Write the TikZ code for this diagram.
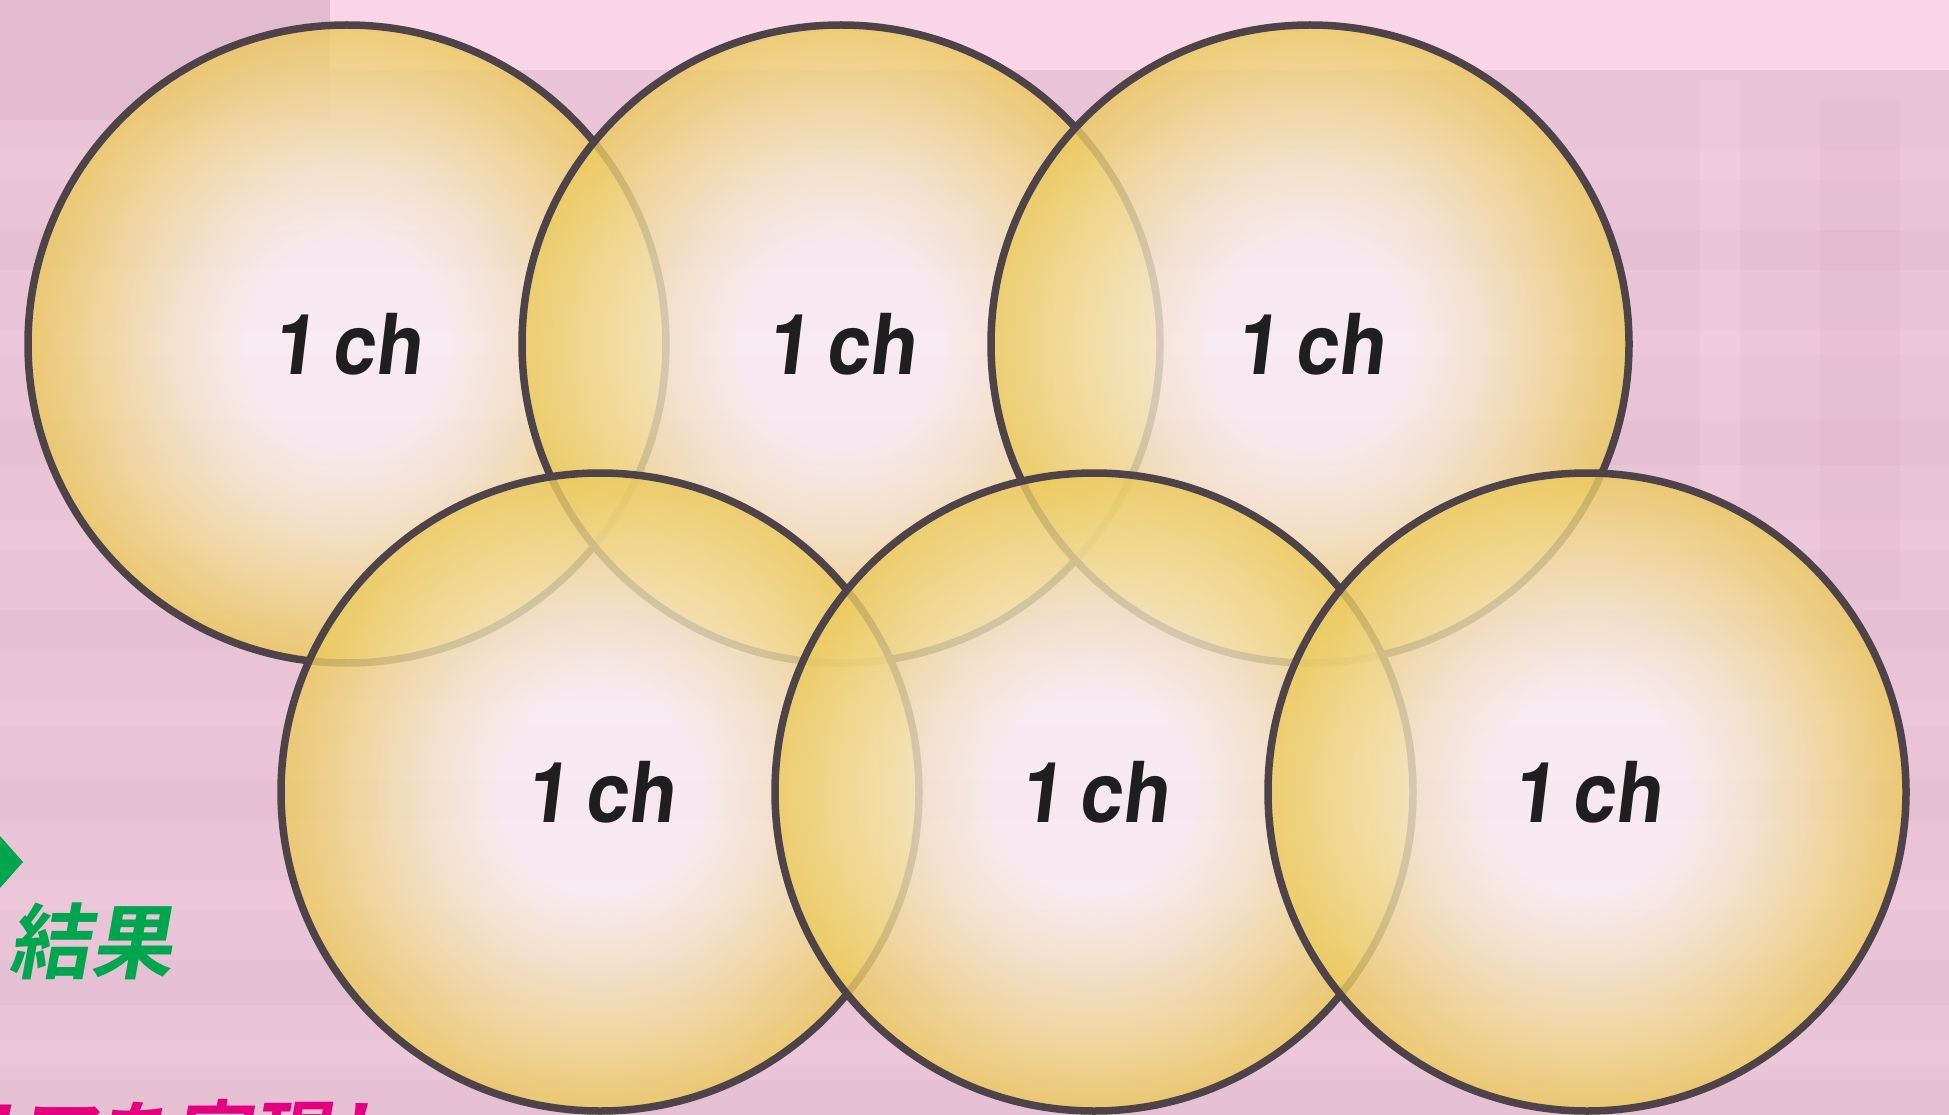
\documentclass[tikz,border=0pt]{standalone}
\usepackage{fontspec}
\setmainfont{TeX Gyre Heros}
\newfontfamily\chfont[FakeSlant=0.12,FakeStretch=0.92]{TeX Gyre Heros Bold}
\newfontfamily\cjk[FakeSlant=0.18]{Noto Sans CJK JP Bold}
\definecolor{bgbase}{HTML}{E9C4D6}
\definecolor{bglight}{HTML}{F9D6E7}
\definecolor{bgdark}{HTML}{D8AEC3}
\definecolor{cw}{HTML}{FCF3F7}
\definecolor{cm}{HTML}{F6E7C8}
\definecolor{cy1}{HTML}{F0D88C}
\definecolor{cy2}{HTML}{EBC95A}
\definecolor{ring}{HTML}{4E4348}
\definecolor{grn}{HTML}{00A54F}
\definecolor{mag}{HTML}{E4007F}
\pgfdeclareradialshading{ballshade}{\pgfpoint{0bp}{0bp}}{color(0bp)=(cw);color(8bp)=(cw);color(14bp)=(cm);color(20bp)=(cy1);color(25bp)=(cy2);color(50bp)=(cy2)}
\tikzset{
  ball/.style={circle, minimum size=638pt, inner sep=0pt, draw=ring, line width=7.5pt,
    shade, shading=ballshade, fill opacity=0.8, draw opacity=1, text opacity=1,
    font=\fontsize{84}{90}\chfont, text=black!88},
  band/.style={opacity=0.2}
}
\begin{document}
\begin{tikzpicture}[x=1pt,y=-1pt]
\useasboundingbox (0,0) rectangle (1949,1115);
\clip (0,0) rectangle (1949,1115);
% background
\fill[bgbase] (0,0) rectangle (1949,1115);
\fill[bglight] (330,0) rectangle (1949,70);
\fill[bgdark, opacity=0.4] (0,0) rectangle (330,120);
\foreach \y/\h/\c in {150/30/bglight, 230/40/bgdark, 330/25/bglight, 420/45/bgdark, 520/30/bglight, 610/40/bgdark, 700/25/bglight, 780/40/bgdark, 880/30/bglight, 960/45/bgdark, 1040/25/bglight, 1080/35/bgdark}{
  \fill[\c, band] (0,\y) rectangle (1949,\y+\h);
}
\fill[bglight, opacity=0.3] (1700,80) rectangle (1740,500);
\fill[bgdark, opacity=0.2] (1820,100) rectangle (1900,600);
% circles
\node[ball] (t1) at (347,344) {1\hspace{0.2em}ch};
\node[ball] (t2) at (841,344) {1\hspace{0.2em}ch};
\node[ball] (t3) at (1310,344) {1\hspace{0.2em}ch};
\node[ball] (b1) at (600,792) {1\hspace{0.2em}ch};
\node[ball] (b2) at (1094,792) {1\hspace{0.2em}ch};
\node[ball] (b3) at (1587,792) {1\hspace{0.2em}ch};
% left-side marks
\fill[grn] (0,836) -- (23,862) -- (0,888) -- cycle;
\node[anchor=base west, inner sep=0pt, text=grn, font=\cjk\fontsize{82}{90}\selectfont] (res) at (8,972) {結果};
\node[anchor=base west, inner sep=0pt, text=mag, font=\cjk\fontsize{78}{90}\selectfont] (bot) at (-62,1165) {リアを実現し};
\end{tikzpicture}
\end{document}
